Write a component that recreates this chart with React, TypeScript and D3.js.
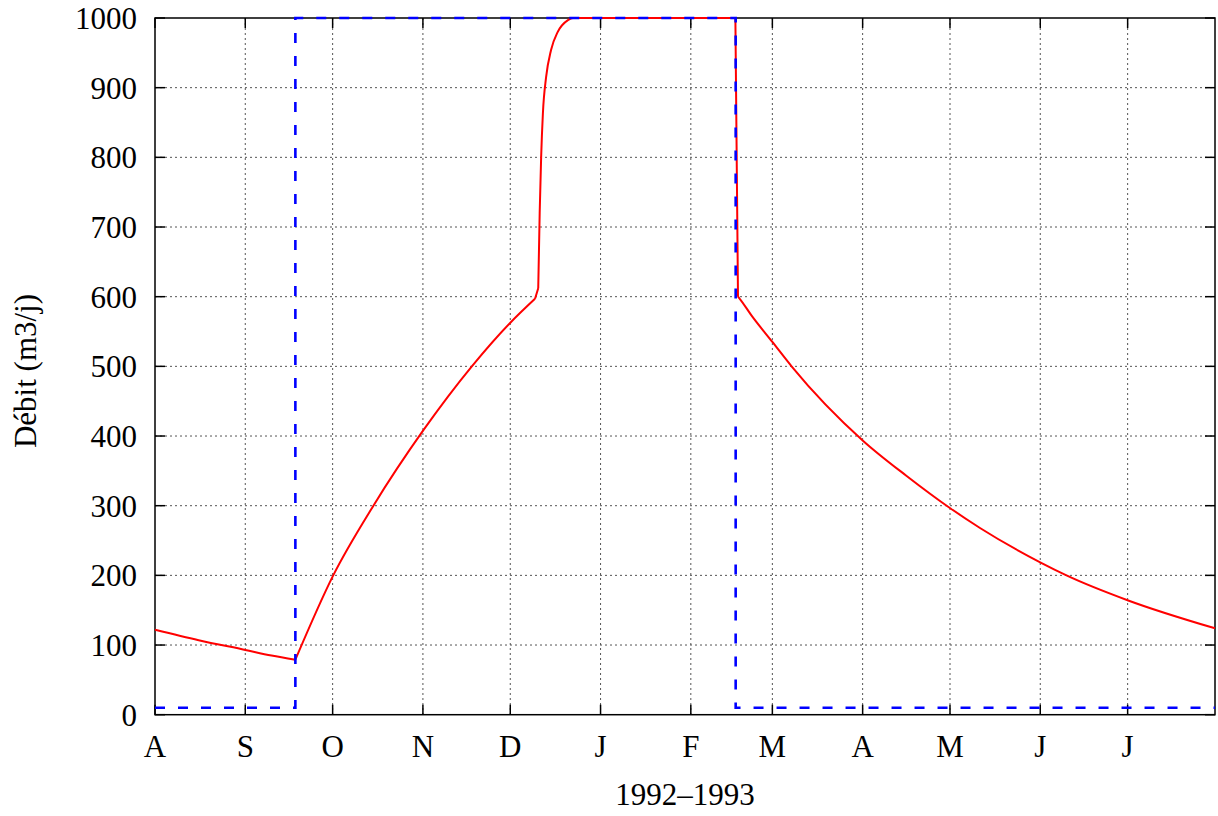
import React from "react";
import * as d3 from "d3";

const monthDays = [0, 31, 61, 92, 122, 153, 184, 212, 243, 273, 304, 334];
const monthLabels = ["A", "S", "O", "N", "D", "J", "F", "M", "A", "M", "J", "J"];
const yTicks = [0, 100, 200, 300, 400, 500, 600, 700, 800, 900, 1000];

// Red: débit (day since 1 Aug 1992, m3/j)
const redDays = [0, 15, 31, 40, 48.2, 61.2, 75, 92.1, 108.8, 122.1, 130.5, 131.6, 132.1, 132.6, 133.2, 134.3, 136, 138.3, 141.8, 143.5, 199.3, 200.2, 200.8, 205, 212, 218.6, 243.2, 258, 273.2, 283.3, 304.3, 313, 334.2, 364];
const redVals = [122, 107, 93, 85, 79, 200, 300, 408, 500, 563, 597, 612, 720, 800, 863, 915, 954, 980, 997, 1000, 1000, 600, 597, 572, 535, 500, 393, 343, 296, 268, 218, 200, 164, 124];
// days where the red curve has a sharp corner
const redCorners = [48.2, 130.5, 131.6, 199.3, 200.2];

// Blue dashed: consigne
const blueDays = [0, 48.2, 48.2, 199.4, 199.4, 364];
const blueVals = [10, 10, 1000, 1000, 10, 10];

export default function App() {
  const W = 1218, H = 816;
  const left = 155, right = 1215, top = 18, bottom = 714.7;
  const x = d3.scaleLinear().domain([0, 364]).range([left, right]);
  const y = d3.scaleLinear().domain([0, 1000]).range([bottom, top]);

  const red = redDays.map((d, i) => [d, redVals[i]] as [number, number]);
  // split into smooth segments at corner points
  const segments: [number, number][][] = [];
  let cur: [number, number][] = [];
  red.forEach(p => {
    cur.push(p);
    if (redCorners.includes(p[0])) {
      segments.push(cur);
      cur = [p];
    }
  });
  if (cur.length > 1) segments.push(cur);

  const blue = blueDays.map((d, i) => [d, blueVals[i]] as [number, number]);
  const lineSmooth = d3.line<[number, number]>().x(d => x(d[0])).y(d => y(d[1])).curve(d3.curveMonotoneX);
  const lineLin = d3.line<[number, number]>().x(d => x(d[0])).y(d => y(d[1]));
  const redPath = segments.map(s => lineSmooth(s) || "").join("");

  const font = "'Liberation Serif', 'Times New Roman', serif";
  const fs = 31;
  const tick = 10;

  return (
    <svg width={W} height={H} style={{ position: "absolute", left: 0, top: 0, background: "#fff" }} fontFamily={font}>
      <rect x={0} y={0} width={W} height={H} fill="#fff" />
      {/* grid */}
      {monthDays.slice(1).map((d, i) => (
        <line key={"gx" + i} x1={x(d)} x2={x(d)} y1={top} y2={bottom} stroke="#555" strokeWidth={1} strokeDasharray="2,3" />
      ))}
      {yTicks.slice(1, -1).map((v, i) => (
        <line key={"gy" + i} x1={left} x2={right} y1={y(v)} y2={y(v)} stroke="#555" strokeWidth={1} strokeDasharray="2,3" />
      ))}
      {/* ticks */}
      {monthDays.map((d, i) => (
        <g key={"tx" + i}>
          <line x1={x(d)} x2={x(d)} y1={bottom} y2={bottom - tick} stroke="#000" strokeWidth={1.5} />
          <line x1={x(d)} x2={x(d)} y1={top} y2={top + tick} stroke="#000" strokeWidth={1.5} />
          <text x={x(d)} y={757} textAnchor="middle" fontSize={fs} fill="#000">{monthLabels[i]}</text>
        </g>
      ))}
      {yTicks.map((v, i) => (
        <g key={"ty" + i}>
          <line x1={left} x2={left + tick} y1={y(v)} y2={y(v)} stroke="#000" strokeWidth={1.5} />
          <line x1={right} x2={right - tick} y1={y(v)} y2={y(v)} stroke="#000" strokeWidth={1.5} />
          <text x={137} y={y(v) + 11} textAnchor="end" fontSize={fs} fill="#000">{v}</text>
        </g>
      ))}
      {/* frame */}
      <rect x={left} y={top} width={right - left} height={bottom - top} fill="none" stroke="#000" strokeWidth={1.5} />
      {/* series */}
      <path d={redPath} fill="none" stroke="#ff0000" strokeWidth={2} strokeLinejoin="round" />
      <path d={lineLin(blue) || ""} fill="none" stroke="#0000ff" strokeWidth={2.6} strokeDasharray="10,13" />
      {/* axis titles */}
      <text x={(left + right) / 2} y={805} textAnchor="middle" fontSize={fs} fill="#000">1992–1993</text>
      <text transform={`translate(36, 371) rotate(-90)`} textAnchor="middle" fontSize={fs} fill="#000">Débit (m3/j)</text>
    </svg>
  );
}
